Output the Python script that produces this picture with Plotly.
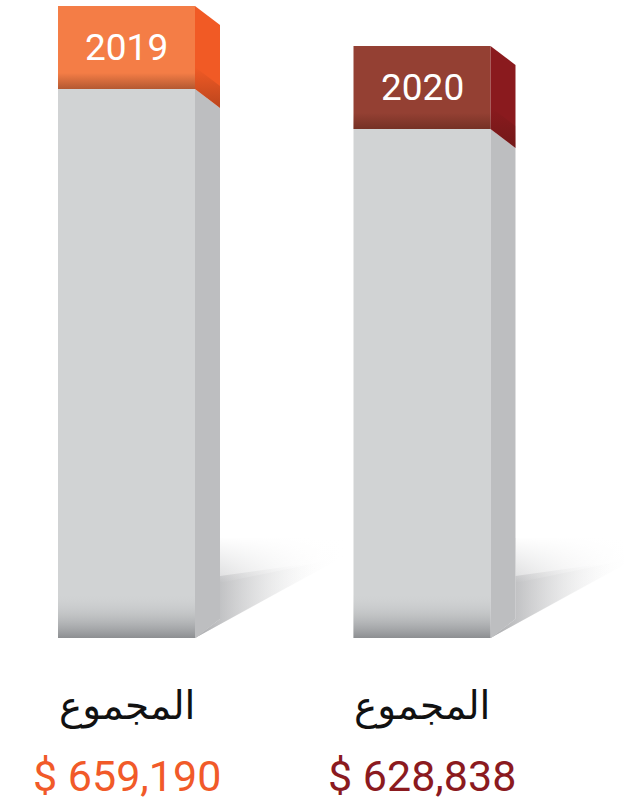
import plotly.graph_objects as go

# data
years = ["2019", "2020"]
totals = [659190, 628838]
total_label = "المجموع"
positions = [0, 1]

# colours
CAP_FRONT = ["#F47D46", "#944033"]
CAP_SIDE = ["#F15A25", "#8A1A1E"]
TEXT_COL = ["#F15A29", "#8B1A1F"]
GREY_FRONT = "#D1D3D4"
GREY_SIDE = "#BDBEC0"

# geometry (axis units)
Y_LO, Y_HI = 179629, 663743
PX = (Y_HI - Y_LO) / 638.0        # value units per pixel
X_LO, X_HI = -0.4281, 1.6836
XPX = (X_HI - X_LO) / 624.0
BAR_W = 0.4636
CAP_H = 83 * PX
DX = 25 * XPX
DY = 19 * PX


def poly(xs, ys, **kw):
    return go.Scatter(x=xs, y=ys, fill="toself", mode="none", hoverinfo="skip", **kw)


def fade(kind, c0, c1):
    return dict(type=kind, colorscale=[[0, c0], [1, c1]])


fig = go.Figure()

# grey body + coloured cap
fig.add_trace(go.Bar(
    x=positions, y=[v - CAP_H for v in totals], width=BAR_W,
    marker=dict(color=GREY_FRONT, line=dict(width=0)), hoverinfo="skip",
))
fig.add_trace(go.Bar(
    x=positions, y=[CAP_H] * 2, base=[v - CAP_H for v in totals], width=BAR_W,
    marker=dict(color=CAP_FRONT, line=dict(width=0)), hoverinfo="skip",
))

for i, (p, v) in enumerate(zip(positions, totals)):
    xl = p - BAR_W / 2
    xr = p + BAR_W / 2
    # soft shadow on the floor (layers, then a white fade over its upper edge)
    fig.add_trace(poly(
        [xr, xr + 150 * XPX, xr + 150 * XPX, xr + DX, xr + DX, xr],
        [Y_LO, Y_LO + 82 * PX, Y_LO + 100 * PX, Y_LO + 100 * PX, Y_LO + DY, Y_LO],
        fillgradient=fade("horizontal", "rgba(185,186,188,0.75)", "rgba(255,255,255,0)"),
    ))
    fig.add_trace(poly(
        [xr, xr + 125 * XPX, xr + 125 * XPX, xr + DX, xr + DX, xr],
        [Y_LO, Y_LO + 69 * PX, Y_LO + 76 * PX, Y_LO + 62 * PX, Y_LO + DY, Y_LO],
        fillgradient=fade("horizontal", "rgba(160,161,164,0.8)", "rgba(255,255,255,0)"),
    ))
    fig.add_trace(poly(
        [xr + DX, xr + 155 * XPX, xr + 155 * XPX, xr + DX, xr + DX],
        [Y_LO + 55 * PX, Y_LO + 82 * PX, Y_LO + 101 * PX, Y_LO + 101 * PX, Y_LO + 55 * PX],
        fillgradient=fade("vertical", "rgba(255,255,255,0)", "rgba(255,255,255,1)"),
    ))
    # grey side face
    fig.add_trace(poly(
        [xr, xr + DX, xr + DX, xr, xr],
        [Y_LO - 0.5 * PX, Y_LO + DY, v - CAP_H - DY, v - CAP_H, Y_LO - 0.5 * PX],
        fillcolor=GREY_SIDE,
    ))
    # cap side face
    fig.add_trace(poly(
        [xr, xr + DX, xr + DX, xr, xr],
        [v - CAP_H, v - CAP_H - DY, v - DY, v, v - CAP_H],
        fillcolor=CAP_SIDE[i],
    ))
    # darker band at the foot of the front face
    fig.add_trace(poly(
        [xl, xr, xr, xl, xl],
        [Y_LO, Y_LO, Y_LO + 45 * PX, Y_LO + 45 * PX, Y_LO],
        fillgradient=fade("vertical", "rgba(140,142,145,1)", "rgba(209,211,212,0)"),
    ))
    # shading at the foot of the cap (front and side)
    fig.add_trace(poly(
        [xl, xr, xr, xl, xl],
        [v - CAP_H, v - CAP_H, v - CAP_H + 16 * PX, v - CAP_H + 16 * PX, v - CAP_H],
        fillgradient=fade("vertical", "rgba(60,20,10,0.35)", "rgba(60,20,10,0)"),
    ))
    fig.add_trace(poly(
        [xr, xr + DX, xr + DX, xr, xr],
        [v - CAP_H, v - CAP_H - DY, v - CAP_H - DY + 22 * PX, v - CAP_H + 22 * PX, v - CAP_H],
        fillgradient=fade("vertical", "rgba(60,20,10,0.3)", "rgba(60,20,10,0)"),
    ))
    # year on the cap
    fig.add_annotation(
        x=p, y=v - CAP_H / 2, xref="x", yref="y", text=years[i], showarrow=False,
        font=dict(family="Roboto", size=37, color="white"),
    )
    # total label and value below
    fig.add_annotation(
        x=p, y=-0.1066, xref="x", yref="paper", text=total_label, showarrow=False,
        xanchor="center", yanchor="middle",
        font=dict(family="DejaVu Sans", size=39, color="#111111"),
    )
    fig.add_annotation(
        x=p, y=-0.2163, xref="x", yref="paper", text=f"$ {v:,}", showarrow=False,
        xanchor="center", yanchor="middle",
        font=dict(family="Roboto", size=43, color=TEXT_COL[i]),
    )

fig.update_layout(
    width=624, height=804,
    margin=dict(l=0, r=0, t=0, b=166),
    barmode="overlay",
    showlegend=False,
    paper_bgcolor="white",
    plot_bgcolor="white",
    xaxis=dict(range=[X_LO, X_HI], visible=False, fixedrange=True),
    yaxis=dict(range=[Y_LO, Y_HI], visible=False, fixedrange=True),
)

fig.write_html("out.html", config={"displayModeBar": False},
               post_script="document.body.style.margin='0';")
